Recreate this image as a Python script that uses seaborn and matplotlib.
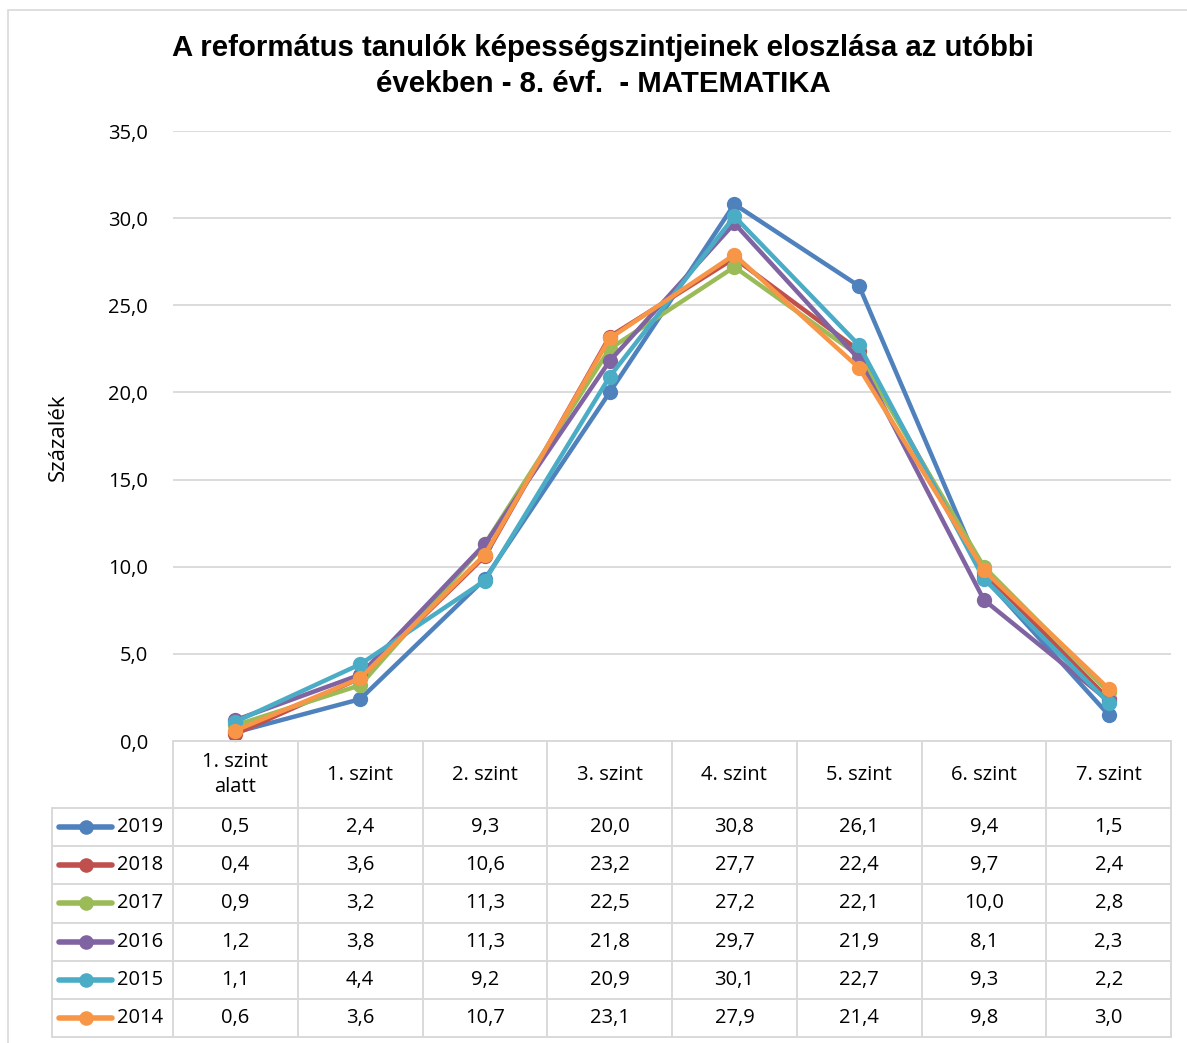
import matplotlib
matplotlib.use("Agg")
import matplotlib.pyplot as plt
import seaborn as sns
import pandas as pd
from matplotlib.patches import Rectangle

categories = ["1. szint\nalatt", "1. szint", "2. szint", "3. szint", "4. szint", "5. szint", "6. szint", "7. szint"]
years = ["2019", "2018", "2017", "2016", "2015", "2014"]
v2019 = [0.5, 2.4, 9.3, 20.0, 30.8, 26.1, 9.4, 1.5]
v2018 = [0.4, 3.6, 10.6, 23.2, 27.7, 22.4, 9.7, 2.4]
v2017 = [0.9, 3.2, 11.3, 22.5, 27.2, 22.1, 10.0, 2.8]
v2016 = [1.2, 3.8, 11.3, 21.8, 29.7, 21.9, 8.1, 2.3]
v2015 = [1.1, 4.4, 9.2, 20.9, 30.1, 22.7, 9.3, 2.2]
v2014 = [0.6, 3.6, 10.7, 23.1, 27.9, 21.4, 9.8, 3.0]
series = [v2019, v2018, v2017, v2016, v2015, v2014]
colors = ["#4F81BD", "#C0504D", "#9BBB59", "#8064A2", "#4BACC6", "#F79646"]
yticks = [0, 5, 10, 15, 20, 25, 30, 35]

title = "A református tanulók képességszintjeinek eloszlása az utóbbi\névekben - 8. évf.  - MATEMATIKA"
ylabel = "Százalék"

rows = []
for y, vals in zip(years, series):
    for i, v in enumerate(vals):
        rows.append({"pos": i, "year": y, "val": v})
df = pd.DataFrame(rows)

sns.set_style("white")
plt.rcParams["font.family"] = ["Open Sans", "DejaVu Sans"]
plt.rcParams["text.color"] = "black"
plt.rcParams["ytick.color"] = "black"

W, H = 1187, 1043
fig = plt.figure(figsize=(W / 100, H / 100), dpi=100)

# outer chart border
fig.patches.append(Rectangle((8 / W, -0.01), 1.2, 1 - 10 / H + 0.01, transform=fig.transFigure,
                             fill=False, edgecolor="#d9d9d9", linewidth=1.2))

L, R, T, B = 173, 1171, 131, 741
ax = fig.add_axes([L / W, 1 - B / H, (R - L) / W, (B - T) / H])
sns.lineplot(data=df, x="pos", y="val", hue="year", hue_order=years, palette=colors,
             marker="o", markersize=11, markeredgewidth=0, linewidth=3.2, legend=False,
             ax=ax, clip_on=False)
ax.set_xlim(-0.5, 7.5)
ax.set_ylim(0, 35)
ax.set_yticks(yticks)
ax.set_yticklabels([f"{t:.1f}".replace(".", ",") for t in yticks], fontsize=14.5)
ax.set_xticks([])
ax.set_xlabel("")
ax.set_ylabel("")
ax.tick_params(axis="y", length=0, pad=18)
ax.grid(axis="y", color="#d9d9d9", linewidth=1.3)
for s in ax.spines.values():
    s.set_visible(False)

fig.text(58 / W, 1 - 437 / H, ylabel, rotation=90, ha="center", va="center", fontsize=16)
fig.text(603 / W, 1 - 66 / H, title, ha="center", va="center", fontsize=21.2, fontweight="bold",
         family=["Liberation Sans", "DejaVu Sans"], linespacing=1.32, color="black")

# data table
TL, TB = 52, 1037
colw = (R - L) / 8
xl = -0.5 - (L - TL) / colw
axt = fig.add_axes([TL / W, 1 - TB / H, (R - TL) / W, (TB - B) / H])
axt.set_xlim(xl, 7.5)
axt.set_ylim(TB - B, 0)
axt.axis("off")
gc = "#d9d9d9"
lw = 1.4
hdr = 67
rh = (TB - B - hdr) / 6
axt.plot([-0.5, 7.5], [0, 0], color=gc, lw=lw, clip_on=False)
for k in range(7):
    yy = hdr + k * rh
    axt.plot([xl, 7.5], [yy, yy], color=gc, lw=lw, clip_on=False)
for k in range(9):
    axt.plot([-0.5 + k, -0.5 + k], [0, TB - B], color=gc, lw=lw, clip_on=False)
axt.plot([xl, xl], [hdr, TB - B], color=gc, lw=lw, clip_on=False)

fs = 14.5
for i, c in enumerate(categories):
    axt.text(i, hdr / 2, c, ha="center", va="center", fontsize=fs, linespacing=1.3)

def px2d(xp):
    return -0.5 + (xp - L) / colw

for r, (y, vals, col) in enumerate(zip(years, series, colors)):
    yc = hdr + (r + 0.5) * rh
    axt.plot([px2d(59), px2d(112)], [yc, yc], color=col, lw=4, solid_capstyle="round", clip_on=False)
    axt.plot([px2d(85.5)], [yc], marker="o", color=col, markersize=10.5, markeredgewidth=0, clip_on=False)
    axt.text(px2d(117), yc, y, ha="left", va="center", fontsize=fs)
    for i, v in enumerate(vals):
        axt.text(i, yc, f"{v:.1f}".replace(".", ","), ha="center", va="center", fontsize=fs)

fig.savefig("out.png", dpi=100)
